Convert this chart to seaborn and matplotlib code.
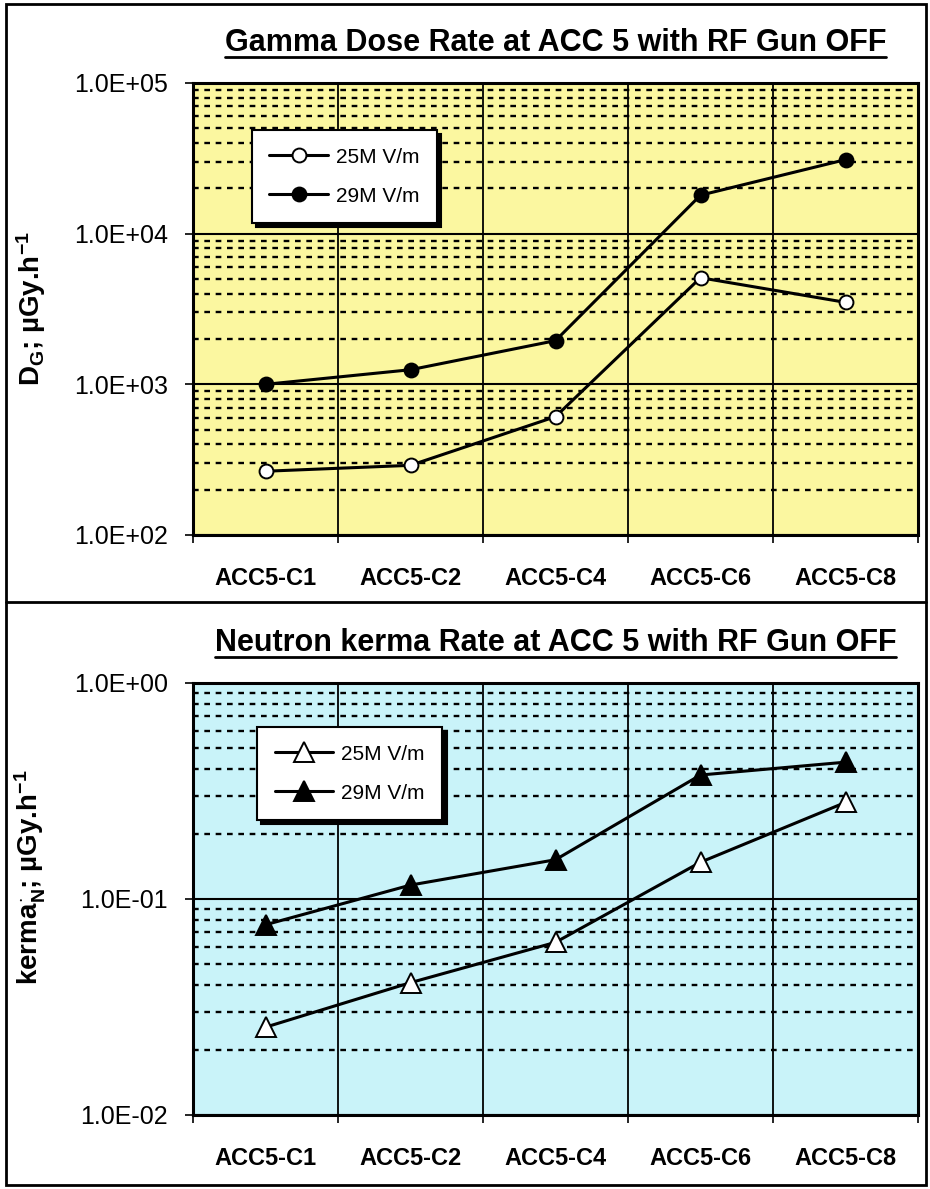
import matplotlib
matplotlib.use('Agg')
import matplotlib.pyplot as plt
import seaborn as sns
import numpy as np
from matplotlib.ticker import LogLocator, FuncFormatter, NullFormatter
from matplotlib.lines import Line2D
from matplotlib.patches import Rectangle

# ---------------- data ----------------
locations = ['ACC5-C1', 'ACC5-C2', 'ACC5-C4', 'ACC5-C6', 'ACC5-C8']
gamma_25 = [265, 290, 610, 5100, 3500]
gamma_29 = [1000, 1250, 1950, 18000, 31000]
neutron_25 = [0.0255, 0.041, 0.063, 0.148, 0.28]
neutron_29 = [0.076, 0.116, 0.152, 0.375, 0.43]
series_labels = ['25M V/m', '29M V/m']
title_gamma = 'Gamma Dose Rate at ACC 5 with RF Gun OFF'
title_neutron = 'Neutron kerma Rate at ACC 5 with RF Gun OFF'
ylabel_gamma = r'D$_\mathrm{G}$; µGy.h$^{\mathrm{-1}}$'
ylabel_neutron = r'kerma$_\mathrm{N}^{\cdot}$; µGy.h$^{\mathrm{-1}}$'

sns.set_theme(style='white')
plt.rcParams['font.family'] = ['Liberation Sans', 'DejaVu Sans']
plt.rcParams['mathtext.fontset'] = 'custom'
plt.rcParams['mathtext.rm'] = 'Liberation Sans:bold'
plt.rcParams['mathtext.it'] = 'Liberation Sans:bold'
plt.rcParams['mathtext.bf'] = 'Liberation Sans:bold'
plt.rcParams['text.color'] = 'black'
plt.rcParams['axes.labelcolor'] = 'black'
plt.rcParams['xtick.color'] = 'black'
plt.rcParams['ytick.color'] = 'black'

W, H = 930, 1189
fig = plt.figure(figsize=(W / 100, H / 100), dpi=100)
ax1 = fig.add_axes([193 / W, 1 - 535 / H, 725 / W, 452 / H])
ax2 = fig.add_axes([193 / W, 1 - 1115 / H, 725 / W, 432 / H])


def draw_series(ax, y25, y29, marker, ms):
    sns.lineplot(x=locations, y=y25, ax=ax, sort=False, color='black',
                 marker=marker, markersize=ms, markerfacecolor='white',
                 markeredgecolor='black', markeredgewidth=1.4,
                 linewidth=2.2, label=series_labels[0], zorder=5)
    sns.lineplot(x=locations, y=y29, ax=ax, sort=False, color='black',
                 marker=marker, markersize=ms, markerfacecolor='black',
                 markeredgecolor='black', markeredgewidth=1.4,
                 linewidth=2.2, label=series_labels[1], zorder=5)


def style_axes(ax, face, ymin, ymax):
    ax.set_facecolor(face)
    ax.set_yscale('log')
    ax.set_ylim(ymin, ymax)
    ax.set_xlim(-0.5, 4.5)
    ax.yaxis.set_major_locator(LogLocator(base=10, numticks=10))
    ax.yaxis.set_minor_locator(LogLocator(base=10, subs=np.arange(2, 10), numticks=100))
    ax.yaxis.set_major_formatter(FuncFormatter(lambda v, p: f'{v:.1E}'))
    ax.yaxis.set_minor_formatter(NullFormatter())
    ax.set_xticks(range(len(locations)))
    ax.set_xticklabels(locations, fontweight='bold', fontsize=17, color='black')
    ax.set_xticks(np.arange(-0.5, len(locations), 1), minor=True)
    ax.tick_params(axis='x', which='major', length=0, pad=23)
    ax.tick_params(axis='x', which='minor', length=6, width=1.2,
                   direction='out', color='black', bottom=True)
    ax.tick_params(axis='y', which='major', length=6, width=1.2, left=True,
                   direction='out', color='black', labelsize=18, pad=12,
                   labelcolor='black')
    ax.tick_params(axis='y', which='minor', length=0)
    ax.grid(False)
    ax.grid(True, axis='x', which='minor', color='black', lw=1.3, ls='-')
    ax.grid(True, axis='y', which='major', color='black', lw=1.5, ls='-')
    ax.grid(True, axis='y', which='minor', color='black', lw=1.7, ls=(0, (2.4, 2.4)))
    ax.set_axisbelow(True)
    for s in ax.spines.values():
        s.set_color('black')
        s.set_linewidth(2.2)
        s.set_visible(True)


draw_series(ax1, gamma_25, gamma_29, 'o', 10)
draw_series(ax2, neutron_25, neutron_29, '^', 14)
style_axes(ax1, '#FBF7A0', 1e2, 1e5)
style_axes(ax2, '#C9F3F9', 1e-2, 1e0)

ax1.set_xlabel('')
ax2.set_xlabel('')
ax1.set_ylabel(ylabel_gamma, fontsize=20, fontweight='bold', color='black')
ax2.set_ylabel(ylabel_neutron, fontsize=20, fontweight='bold', color='black')
ax1.yaxis.set_label_coords(-0.2, 0.5)
ax2.yaxis.set_label_coords(-0.2, 0.55)

shadow = {'ox': 3, 'oy': -3, 'color': 'black', 'alpha': 1}
for ax, anchor in [(ax1, (0.081, 0.896)), (ax2, (0.088, 0.898))]:
    leg = ax.legend(loc='upper left', bbox_to_anchor=anchor, borderaxespad=0,
                    fontsize=15, handlelength=2.8, handletextpad=0.4,
                    frameon=True, fancybox=False,
                    shadow=shadow, borderpad=0.85, labelspacing=0.95)
    leg.get_frame().set_edgecolor('black')
    leg.get_frame().set_linewidth(1.5)
    leg.get_frame().set_facecolor('white')
    leg.get_frame().set_alpha(1)
    for txt in leg.get_texts():
        txt.set_color('black')

t1 = fig.text(555.5 / W, 1 - 43 / H, title_gamma, ha='center', va='center',
              fontsize=22, fontweight='bold', color='black')
t2 = fig.text(555.5 / W, 1 - 643 / H, title_neutron, ha='center', va='center',
              fontsize=22, fontweight='bold', color='black')

# frame around the whole picture and separator between the two panels
fig.add_artist(Rectangle((6 / W, 4 / H), 920 / W, 1181 / H, transform=fig.transFigure,
                         fill=False, edgecolor='black', linewidth=2))
fig.add_artist(Line2D([6 / W, 926 / W], [1 - 602 / H, 1 - 602 / H],
                      transform=fig.transFigure, color='black', linewidth=2))

fig.canvas.draw()
renderer = fig.canvas.get_renderer()
for t in (t1, t2):
    bb = t.get_window_extent(renderer)
    y = (bb.y0 + 1) / H
    fig.add_artist(Line2D([bb.x0 / W, bb.x1 / W], [y, y], transform=fig.transFigure,
                          color='black', linewidth=2))

fig.savefig('out.png', dpi=100)
